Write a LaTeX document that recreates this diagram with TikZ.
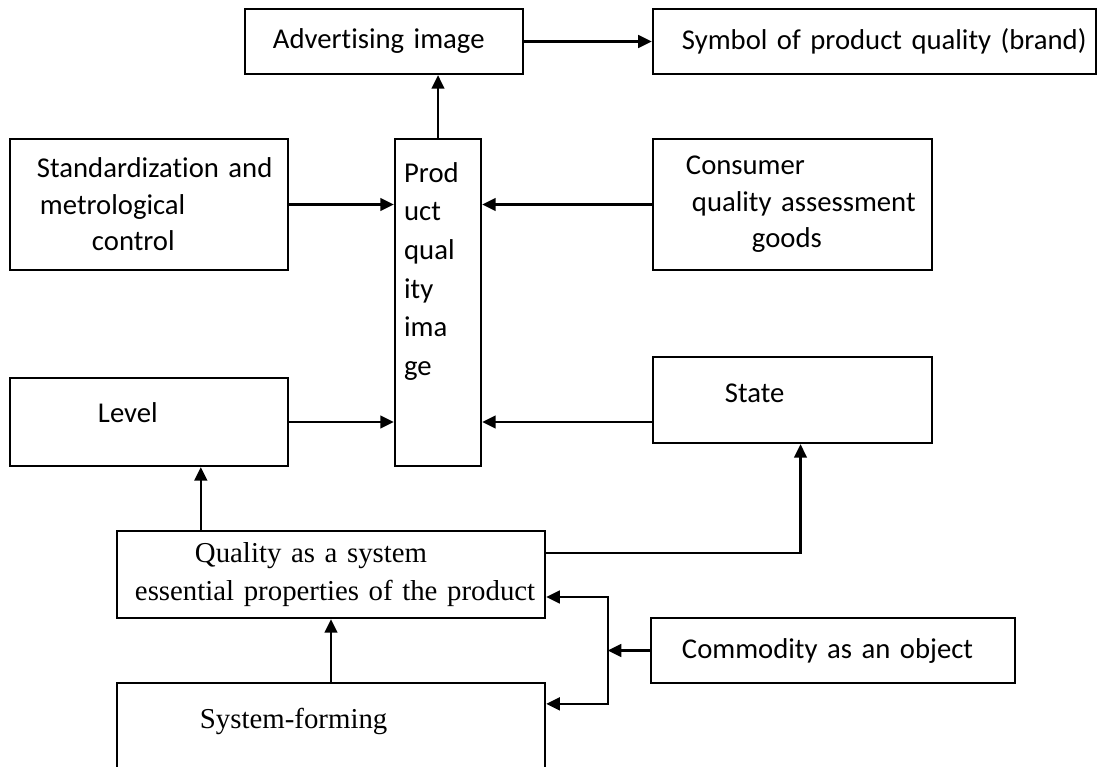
\documentclass[tikz,border=0pt]{standalone}
\usepackage{fontspec}
\setmainfont{Carlito}[Ligatures=NoCommon]
\newfontfamily\timesfont{Liberation Serif}
\usetikzlibrary{positioning,arrows.meta}

\begin{document}
\begin{tikzpicture}[
    x=0.025cm, y=-0.025cm,
    font=\fontsize{20.4pt}{26pt}\selectfont,
    block/.style={draw=black, line width=1.6pt, rectangle, inner xsep=0pt, align=left},
    serifblock/.style={block, font=\timesfont\fontsize{20.5pt}{27pt}\selectfont},
    arrow/.style={-{Triangle[length=0.34cm, width=0.32cm]}, line width=1.6pt, draw=black}
]
\useasboundingbox (0,0) rectangle (1098,767);

% ====================
%      Top row
% ====================
\node[block, minimum height=1.625cm, text width=6.95cm] (adv) at (384,41.5) {\hspace*{0.7cm}Advertising image};
\node[block, minimum height=1.625cm, text width=11.075cm] (brand) at (874.5,41.5) {\hspace*{0.725cm}Symbol of product quality (brand)};

% ====================
%     Middle part
% ====================
\node[block, minimum height=3.275cm, text width=6.95cm] (std) at (149,204.5) {\hspace*{0.675cm}Standardization and\\\hspace*{0.75cm}metrological\\\hspace*{2.05cm}control};
\node[block, minimum height=8.175cm, text width=2.15cm,
      label={[anchor=north west, inner sep=0pt, align=left, xshift=0.25cm, yshift=-0.6cm, font=\fontsize{20.4pt}{27.5pt}\selectfont]north west:{Prod\\uct\\qual\\ity\\ima\\ge}}] (pqi) at (438,302.5) {};
\node[block, minimum height=3.275cm, text width=6.975cm] (cons) at (792.5,204.5) {\hspace*{0.825cm}Consumer\\\hspace*{0.975cm}quality assessment\\\hspace*{2.475cm}goods};
\node[block, minimum height=2.2cm, text width=6.95cm, text height=0.5cm, text depth=0.5cm] (level) at (149,422) {\hspace*{2.2cm}Level};
\node[block, minimum height=2.15cm, text width=6.975cm, text height=0.55cm, text depth=0.45cm] (state) at (792.5,400) {\hspace*{1.8cm}State};

% ====================
%     Bottom part
% ====================
\node[serifblock, minimum height=2.175cm, text width=10.7cm] (qual) at (331,574.5) {\hspace*{1.95cm}Quality as a system\\\hspace*{0.45cm}essential properties of the product};
\node[block, minimum height=1.625cm, text width=9.1cm] (comm) at (833,650.5) {\hspace*{0.775cm}Commodity as an object};
\node[serifblock, minimum height=2.925cm, text width=10.7cm, text height=0.5cm, text depth=1.175cm] (sysf) at (331,741.5) {\hspace*{2.075cm}System-forming};

% Helper points
\coordinate (lvlfoot) at ([xshift=2.125cm]qual.north west);
\coordinate (qout) at ([yshift=0.54cm]qual.east);
\coordinate (stfoot) at ([xshift=0.2cm]state.south);
\coordinate[left=1.05cm of comm.west] (jn);

% Connections
\draw[arrow] (adv.east) -- (brand.west);
\draw[arrow] (pqi.north) -- (adv.south -| pqi.north);
\draw[arrow] (std.east) -- (pqi.west |- std.east);
\draw[arrow] (cons.west) -- (pqi.east |- cons.west);
\draw[arrow] (level.east) -- (pqi.west |- level.east);
\draw[arrow] (state.west |- level.east) -- (pqi.east |- level.east);
\draw[arrow] (lvlfoot) -- (lvlfoot |- level.south);
\draw[arrow] (qout) -| (stfoot);
\draw[arrow] (sysf.north) -- (qual.south);
\draw[arrow] (comm.west) -- (jn);
\draw[arrow] (jn) |- ([yshift=-0.5625cm]qual.east);
\draw[arrow] (jn) |- ([yshift=-0.55cm]sysf.north east);

\end{tikzpicture}
\end{document}
